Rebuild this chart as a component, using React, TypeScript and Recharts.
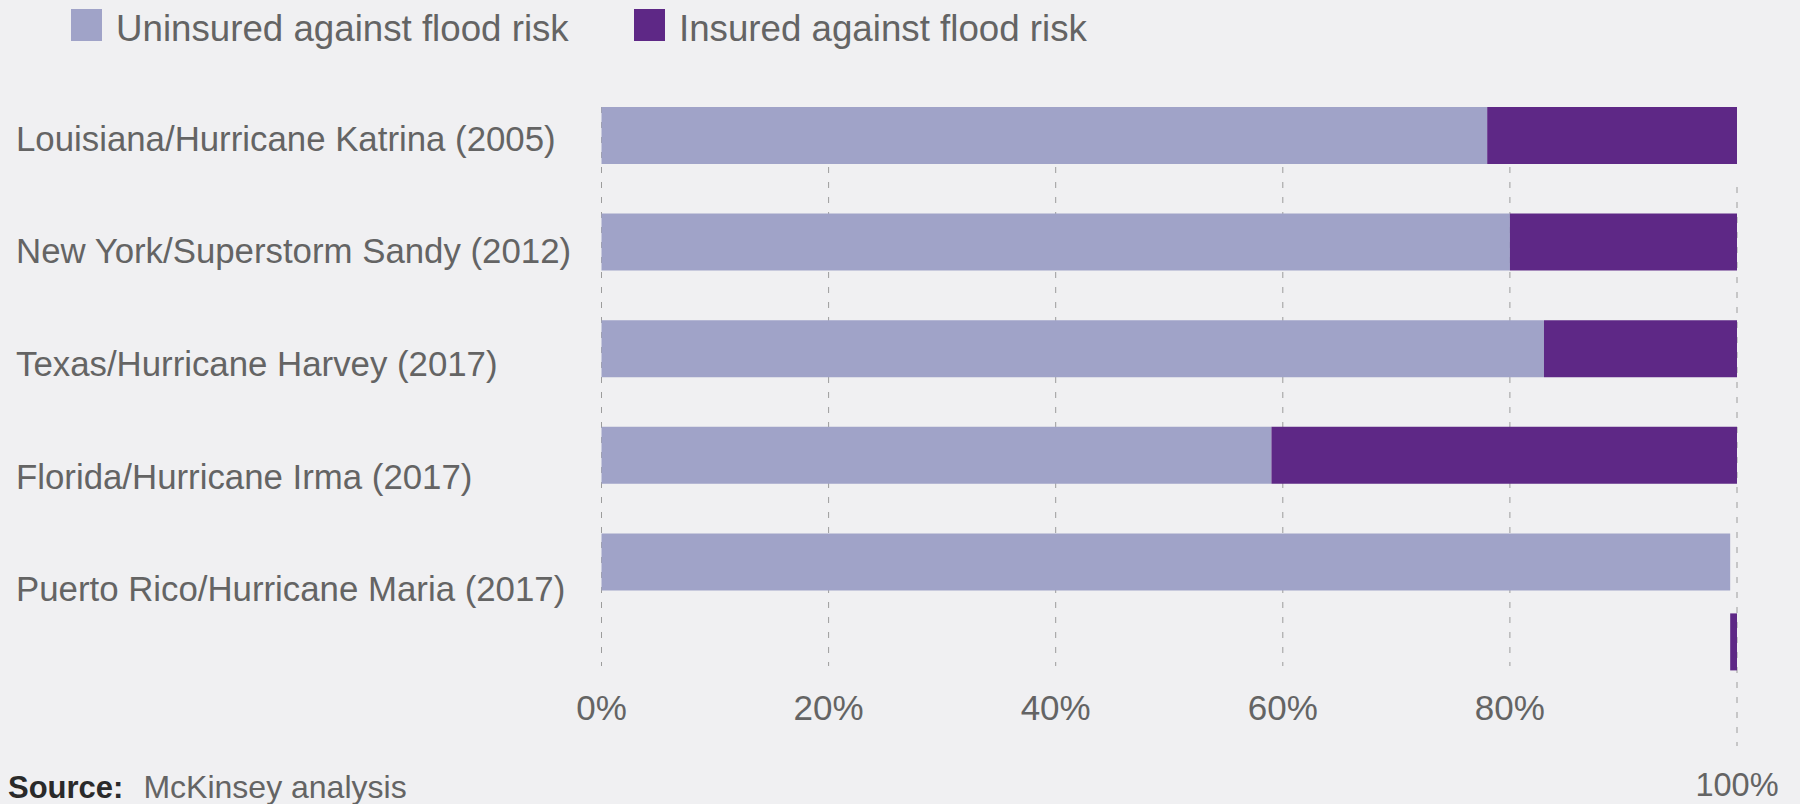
import React from "react"
import { BarChart, Bar, XAxis, YAxis, CartesianGrid, Legend } from "recharts"

const categories = [
    "Louisiana/Hurricane Katrina (2005)",
    "New York/Superstorm Sandy (2012)",
    "Texas/Hurricane Harvey (2017)",
    "Florida/Hurricane Irma (2017)",
    "Puerto Rico/Hurricane Maria (2017)",
]
const uninsured = [78, 80, 83, 59, 99.4]
const insured = [22, 20, 17, 41, 0.6]
const xTicks = [0, 20, 40, 60, 80, 100]

// the source draws these one step lower than where they belong
const displacedRow = "Puerto Rico/Hurricane Maria (2017)"
const displacedTick = 100
const DROP = 80

const data = categories.map((name, i) => ({
    name,
    uninsured: uninsured[i],
    insured: name === displacedRow ? null : insured[i],
    insuredLow: name === displacedRow ? [uninsured[i], uninsured[i] + insured[i]] : null,
}))

const seriesOrder = ["uninsured", "insured"]

const LIGHT = "#a0a3c8"
const DARK = "#5e2886"
const TEXT = "#646464"
const GRID = "#9c9c9c"
const FONT = '"Liberation Sans", Arial, Helvetica, sans-serif'

function CategoryTick(props: any) {
    const { y, payload } = props
    return (
        <text x={16} y={y + 12.5} fontSize={34.8} fill={TEXT} fontFamily={FONT} textAnchor="start">
            {payload.value}
        </text>
    )
}

function PercentTick(props: any) {
    const { x, y, payload } = props
    const low = payload.value === displacedTick
    return (
        <text
            x={x}
            y={low ? y + 25 + DROP - 4 : y + 25}
            fontSize={low ? 32.5 : 35}
            fill={TEXT}
            fontFamily={FONT}
            textAnchor="middle"
        >
            {`${payload.value}%`}
        </text>
    )
}

function GridLine(props: any) {
    const { x1, x2, y1, y2, index } = props
    const shift = xTicks[index] === displacedTick ? DROP : 0
    return (
        <line
            x1={x1}
            x2={x2}
            y1={y1 + shift}
            y2={y2 + shift}
            stroke={GRID}
            strokeWidth={1}
            strokeDasharray="6 9"
        />
    )
}

function LegendContent(props: any) {
    const items = (props.payload || [])
        .filter((p: any) => seriesOrder.includes(p.dataKey))
        .sort((a: any, b: any) => seriesOrder.indexOf(a.dataKey) - seriesOrder.indexOf(b.dataKey))
    return (
        <div style={{ position: "relative", width: 1300, height: 50 }}>
            {items.map((p: any, i: number) => (
                <div key={i} style={{ position: "absolute", left: 71 + i * 563, top: 9, display: "flex" }}>
                    <div style={{ width: 31, height: 32, background: p.color }} />
                    <span style={{ marginLeft: 14, marginTop: 4, fontSize: 36.7, lineHeight: "32px", color: TEXT, whiteSpace: "nowrap" }}>
                        {p.value}
                    </span>
                </div>
            ))}
        </div>
    )
}

export default function App() {
    return (
        <div style={{ position: "absolute", left: 0, top: 0, width: 1800, height: 804, background: "#f0f0f2", fontFamily: FONT, overflow: "hidden" }}>
            <BarChart
                layout="vertical"
                width={1800}
                height={804}
                data={data}
                margin={{ top: 82, right: 63, bottom: 0, left: 0 }}
                style={{ fontFamily: FONT }}
            >
                <CartesianGrid
                    xAxisId="a"
                    yAxisId="bars"
                    horizontal={false}
                    vertical={<GridLine />}
                    y={107}
                    height={559}
                />
                <XAxis
                    xAxisId="a"
                    type="number"
                    domain={[0, 100]}
                    ticks={xTicks}
                    interval={0}
                    axisLine={false}
                    tickLine={false}
                    tickSize={0}
                    tickMargin={0}
                    height={109}
                    tick={<PercentTick />}
                />
                <YAxis yAxisId="bars" type="category" dataKey="name" hide padding={{ top: 0, bottom: 80 }} />
                <YAxis
                    yAxisId="labels"
                    type="category"
                    dataKey="name"
                    width={601.5}
                    interval={0}
                    axisLine={false}
                    tickLine={false}
                    tick={<CategoryTick />}
                    padding={{ top: 0, bottom: 50 }}
                />
                <YAxis yAxisId="low" type="category" dataKey="name" hide padding={{ top: DROP, bottom: 0 }} />
                <Legend
                    verticalAlign="middle"
                    align="center"
                    content={<LegendContent />}
                    wrapperStyle={{ top: 0, left: 0, width: 1300, height: 50 }}
                />
                <Bar xAxisId="a" yAxisId="bars" dataKey="uninsured" name="Uninsured against flood risk" stackId="s" fill={LIGHT} barSize={57} isAnimationActive={false} />
                <Bar xAxisId="a" yAxisId="bars" dataKey="insured" name="Insured against flood risk" stackId="s" fill={DARK} barSize={57} isAnimationActive={false} />
                <Bar xAxisId="a" yAxisId="low" dataKey="insuredLow" legendType="none" fill={DARK} barSize={57} isAnimationActive={false} />
            </BarChart>
            <div style={{ position: "absolute", left: 8, top: 771, fontSize: 32, lineHeight: "32px", whiteSpace: "nowrap" }}>
                <span style={{ fontWeight: "bold", fontSize: 31, color: "#2a2a2a", marginRight: 20 }}>Source:</span>
                <span style={{ color: TEXT }}>McKinsey analysis</span>
            </div>
        </div>
    )
}
